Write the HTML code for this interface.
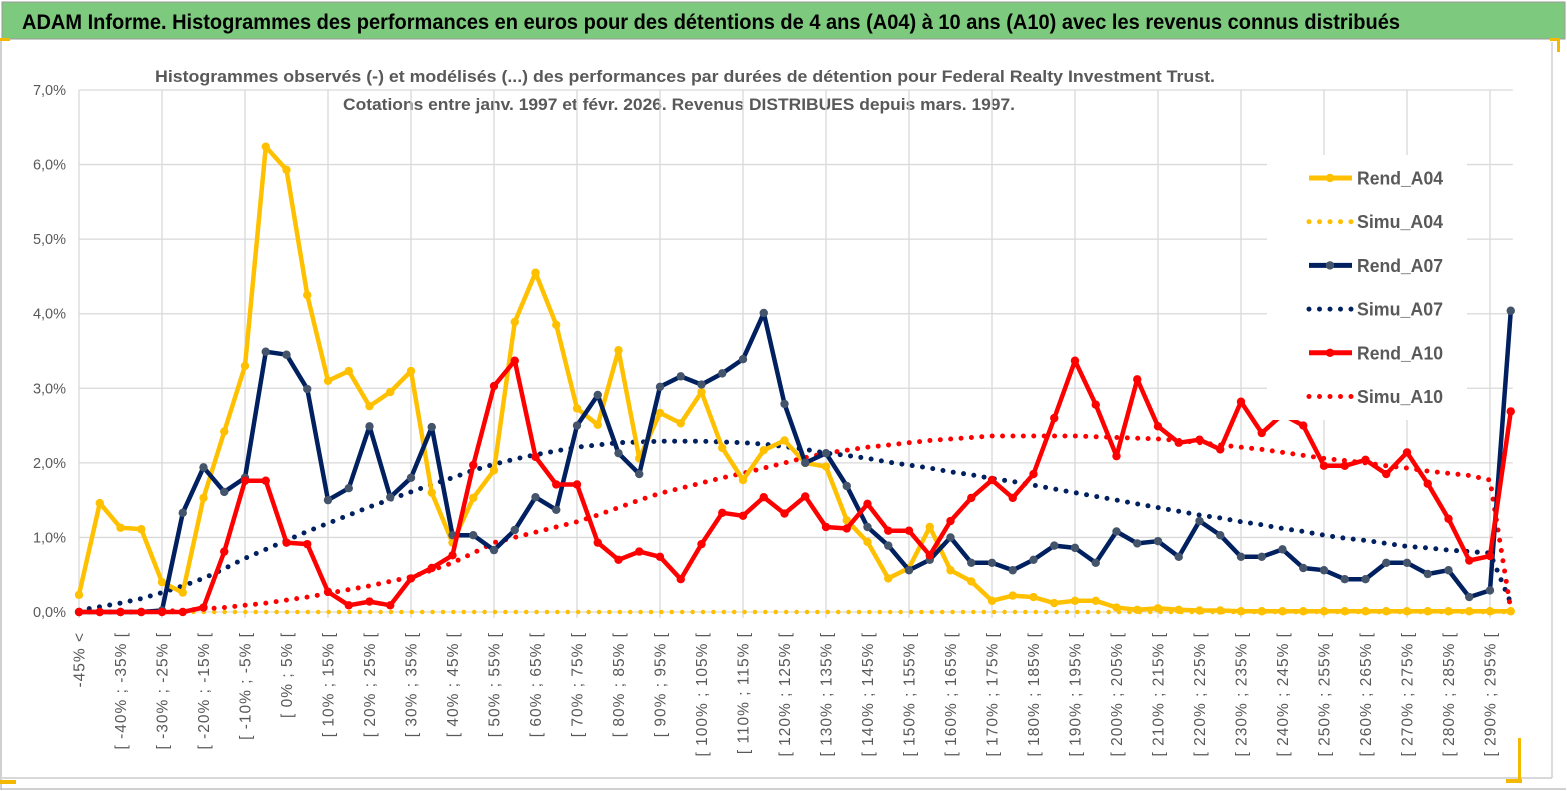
<!DOCTYPE html>
<html><head><meta charset="utf-8"><style>
html,body{margin:0;padding:0;background:#fff;}
svg{display:block;font-family:"Liberation Sans",sans-serif;}
</style></head><body>
<svg id="chart" width="1567" height="791" viewBox="0 0 1567 791">
<rect x="0" y="0" width="1567" height="791" fill="#fff"/>
<rect x="2" y="2" width="1563" height="37" fill="#7dc97d" stroke="#9a9a9a" stroke-width="1"/>
<text x="22" y="29" font-size="21" font-weight="bold" fill="#000" textLength="1378" lengthAdjust="spacingAndGlyphs">ADAM Informe. Histogrammes des performances en euros pour des détentions de 4 ans (A04) à 10 ans (A10) avec les revenus connus distribués</text>
<line x1="1" y1="40" x2="1" y2="790" stroke="#a0a0a0" stroke-width="1"/>
<line x1="1552" y1="42" x2="1552" y2="778" stroke="#d0d0d0" stroke-width="1.5"/>
<line x1="1" y1="778" x2="1552" y2="778" stroke="#d8d8d8" stroke-width="2"/>
<line x1="1" y1="789" x2="1566" y2="789" stroke="#a0a0a0" stroke-width="1"/>
<rect x="0" y="38" width="10" height="3" fill="#f5b800"/>
<rect x="1550" y="38" width="10" height="3" fill="#f5b800"/>
<rect x="1557" y="40" width="3" height="12" fill="#f5b800"/>
<rect x="0" y="780" width="16" height="4" fill="#f5b800"/>
<rect x="1506" y="779" width="16" height="4" fill="#f5b800"/>
<rect x="1518" y="738" width="3" height="44" fill="#f5b800"/>
<text x="685" y="82" font-size="17" font-weight="bold" fill="#595959" text-anchor="middle" textLength="1060" lengthAdjust="spacingAndGlyphs">Histogrammes observés (-) et modélisés (...) des performances par durées de détention pour Federal Realty Investment Trust.</text>
<text x="679" y="110" font-size="17" font-weight="bold" fill="#595959" text-anchor="middle" textLength="672" lengthAdjust="spacingAndGlyphs">Cotations entre janv. 1997 et févr. 2026. Revenus DISTRIBUES depuis mars. 1997.</text>
<g id="grid"></g>
<g id="ylabels"></g>
<g id="xlabels"></g>
<g id="series"></g>
<g id="legend"></g>
</svg>
<script>
const categories = ["-45% <"];
for (let p = -45; p < 300; p += 5) categories.push("[ " + p + "% ; " + (p + 5) + "% [");
const yTicks = [0,1,2,3,4,5,6,7];
const yTickLabels = ["0,0%","1,0%","2,0%","3,0%","4,0%","5,0%","6,0%","7,0%"];
const rendA04 = [0.23,1.46,1.13,1.11,0.40,0.26,1.53,2.42,3.30,6.24,5.93,4.25,3.10,3.23,2.76,2.95,3.23,1.60,0.93,1.53,1.90,3.89,4.55,3.85,2.73,2.51,3.51,2.06,2.67,2.53,2.95,2.20,1.77,2.17,2.30,2.00,1.95,1.23,0.94,0.45,0.59,1.14,0.56,0.41,0.15,0.22,0.20,0.12,0.15,0.15,0.06,0.03,0.05,0.03,0.02,0.02,0.01,0.01,0.01,0.01,0.01,0.01,0.01,0.01,0.01,0.01,0.01,0.01,0.01,0.01];
const simuA04 = [0,0,0,0,0,0,0,0,0,0,0,0,0,0,0,0,0,0,0,0,0,0,0,0,0,0,0,0,0,0,0,0,0,0,0,0,0,0,0,0,0,0,0,0,0,0,0,0,0,0,0,0,0,0,0,0,0,0,0,0,0,0,0,0,0,0,0,0,0,0];
const rendA07 = [0,0,0,0,0.02,1.33,1.94,1.61,1.80,3.49,3.45,2.99,1.50,1.66,2.49,1.54,1.80,2.48,1.03,1.03,0.83,1.10,1.54,1.37,2.50,2.91,2.13,1.85,3.02,3.16,3.05,3.20,3.39,4.01,2.79,2.00,2.13,1.69,1.14,0.89,0.56,0.70,1.00,0.66,0.66,0.56,0.70,0.89,0.86,0.66,1.08,0.92,0.95,0.74,1.22,1.03,0.74,0.74,0.84,0.59,0.56,0.44,0.44,0.66,0.66,0.51,0.56,0.20,0.29,4.04];
const simuA07 = [0.02,0.07,0.12,0.18,0.26,0.35,0.45,0.58,0.72,0.84,0.96,1.08,1.19,1.30,1.41,1.51,1.61,1.71,1.80,1.90,1.98,2.05,2.11,2.16,2.21,2.24,2.27,2.28,2.29,2.29,2.29,2.28,2.27,2.25,2.22,2.18,2.13,2.10,2.06,2.01,1.97,1.93,1.88,1.84,1.79,1.75,1.70,1.65,1.60,1.55,1.50,1.45,1.40,1.35,1.30,1.26,1.21,1.17,1.12,1.08,1.03,0.99,0.96,0.92,0.88,0.86,0.83,0.81,0.79,0.12];
const rendA10 = [0,0,0,0,0,0,0.06,0.81,1.76,1.76,0.93,0.91,0.27,0.09,0.14,0.09,0.45,0.59,0.76,1.97,3.03,3.37,2.08,1.71,1.71,0.93,0.70,0.81,0.74,0.44,0.91,1.33,1.29,1.54,1.32,1.55,1.14,1.12,1.45,1.09,1.09,0.76,1.22,1.53,1.77,1.53,1.85,2.60,3.37,2.78,2.09,3.12,2.49,2.27,2.31,2.18,2.82,2.40,2.65,2.50,1.96,1.96,2.04,1.85,2.14,1.72,1.25,0.69,0.75,2.69];
const simuA10 = [0,0,0,0,0.01,0.02,0.04,0.06,0.09,0.12,0.16,0.20,0.25,0.30,0.35,0.41,0.47,0.56,0.66,0.79,0.93,1.00,1.07,1.14,1.21,1.30,1.40,1.50,1.59,1.66,1.73,1.80,1.86,1.93,2.00,2.07,2.13,2.17,2.21,2.24,2.27,2.30,2.32,2.34,2.36,2.36,2.36,2.36,2.36,2.35,2.34,2.33,2.32,2.30,2.27,2.24,2.21,2.18,2.14,2.10,2.06,2.03,2.00,1.96,1.93,1.89,1.86,1.83,1.77,0.03];

const NS = "http://www.w3.org/2000/svg";
const X0 = 79, DX = 20.75, Y0 = 612, YTOP = 90, YMAX = 7;
function xPos(i){ return X0 + DX * i; }
function yPos(v){ return Y0 - (v / YMAX) * (Y0 - YTOP); }
function mk(tag, attrs, parent){ const e = document.createElementNS(NS, tag); for (const k in attrs) e.setAttribute(k, attrs[k]); parent.appendChild(e); return e; }

const grid = document.getElementById('grid');
const ylab = document.getElementById('ylabels');
const xRight = xPos(categories.length - 1) + 2;
yTicks.forEach((t, k) => {
  const l = mk('line', {x1: X0, x2: xRight, y1: yPos(t), y2: yPos(t), stroke: '#d9d9d9', 'stroke-width': 1.3}, grid);
  
  
  const tx = mk('text', {x: 66, y: yPos(t) + 5, 'font-size': 14.5, fill: '#595959', 'text-anchor': 'end'}, ylab);
  tx.textContent = yTickLabels[k];
  
  
});
for (let i = 0; i < categories.length; i += 4) {
  const l = mk('line', {x1: xPos(i), x2: xPos(i), y1: YTOP, y2: Y0 + 6, stroke: '#d9d9d9', 'stroke-width': 1.3}, grid);
  
  
}
const xlab = document.getElementById('xlabels');
for (let i = 0; i < categories.length; i += 2) {
  const x = xPos(i) + 5.5;
  const tx = mk('text', {x: 0, y: 0, 'font-size': 15.5, 'letter-spacing': 1, fill: '#595959', 'text-anchor': 'end', transform: 'translate(' + x + ',632) rotate(-90)'}, xlab);
  tx.textContent = categories[i];
  
  
}

const ser = document.getElementById('series');
function pts(arr){ return arr.map((v, i) => xPos(i).toFixed(1) + ',' + yPos(v).toFixed(1)).join(' '); }
function dotted(arr, color, w, gap, name){
  const p = mk('polyline', {points: pts(arr), fill: 'none', stroke: color, 'stroke-width': w, 'stroke-linecap': 'round', 'stroke-dasharray': '0 ' + gap}, ser);
  
  
}
function solid(arr, color, mcol, name){
  const p = mk('polyline', {points: pts(arr), fill: 'none', stroke: color, 'stroke-width': 4.5, 'stroke-linejoin': 'round'}, ser);
  
  
  arr.forEach((v, i) => {
    const c = mk('circle', {cx: xPos(i), cy: yPos(v), r: 4.2, fill: mcol}, ser);
    
    
  });
}
dotted(simuA04, '#ffc000', 4.5, 10.4, 'simu-a04-line');
dotted(simuA07, '#002060', 5, 10.4, 'simu-a07-line');
dotted(simuA10, '#ff0000', 5, 10.4, 'simu-a10-line');
solid(rendA04, '#ffc000', '#ffc000', 'rend-a04');
solid(rendA07, '#002060', '#44546a', 'rend-a07');
solid(rendA10, '#ff0000', '#ff0000', 'rend-a10');

const leg = document.getElementById('legend');
const lb = mk('rect', {x: 1267, y: 155, width: 200, height: 265, fill: '#fff'}, leg);


const legItems = [
  ['Rend_A04', '#ffc000', '#ffc000', false],
  ['Simu_A04', '#ffc000', null, true],
  ['Rend_A07', '#002060', '#44546a', false],
  ['Simu_A07', '#002060', null, true],
  ['Rend_A10', '#ff0000', '#ff0000', false],
  ['Simu_A10', '#ff0000', null, true]
];
legItems.forEach((it, k) => {
  const y = 178 + k * 43.7;
  const g = mk('g', {}, leg);
  
  
  if (it[3]) {
    mk('line', {x1: 1309, x2: 1352, y1: y, y2: y, stroke: it[1], 'stroke-width': 5, 'stroke-linecap': 'round', 'stroke-dasharray': '0 10.5'}, g);
  } else {
    mk('line', {x1: 1309, x2: 1352, y1: y, y2: y, stroke: it[1], 'stroke-width': 5}, g);
    mk('circle', {cx: 1330, cy: y, r: 4.2, fill: it[2]}, g);
  }
  const t = mk('text', {x: 1357, y: y + 6.5, 'font-size': 18, 'font-weight': 'bold', fill: '#595959', textLength: 86, lengthAdjust: 'spacingAndGlyphs'}, g);
  t.textContent = it[0];
});
</script>
</body></html>
